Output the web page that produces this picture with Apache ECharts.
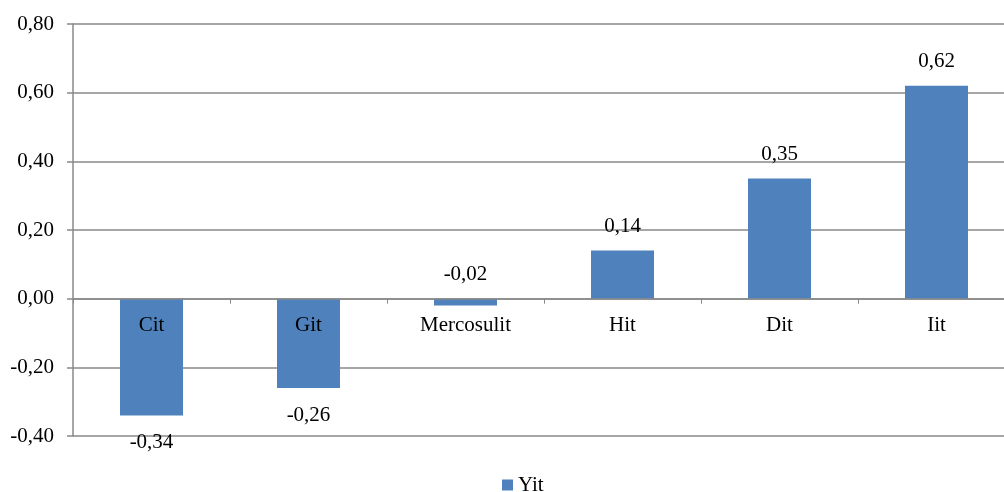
<!DOCTYPE html>
<html>
<head>
<meta charset="utf-8">
<script src="https://cdn.jsdelivr.net/npm/echarts@6/dist/echarts.min.js"></script>
<style>
  html, body { margin: 0; padding: 0; background: #fff; }
  #chart { width: 1004px; height: 492px; }
</style>
</head>
<body>
<div id="chart"></div>
<script>
// Categories and the Yit value for each
const categories = ['Cit', 'Git', 'Mercosulit', 'Hit', 'Dit', 'Iit'];
const yitValues = [-0.34, -0.26, -0.02, 0.14, 0.35, 0.62];
const seriesName = 'Yit';

// Value axis range and step
const yMin = -0.4;
const yMax = 0.8;
const yStep = 0.2;

const FONT = '"Liberation Serif", "Times New Roman", serif';
const GRID_GREY = '#898989';
const BAR_BLUE = '#4F81BD';

// Decimal comma, two places
const fmt = v => (Math.abs(v) < 1e-9 ? 0 : v).toFixed(2).replace('.', ',');

// Small negative bars get their label above the baseline so it stays clear of the category name
const barData = yitValues.map(v => {
  const above = v >= 0 || v > -0.05;
  return {
    value: v,
    label: { position: above ? 'top' : 'bottom', distance: above ? 14 : 17 }
  };
});

const chart = echarts.init(document.getElementById('chart'), null, { renderer: 'canvas' });
chart.setOption({
  animation: false,
  backgroundColor: '#fff',
  textStyle: { fontFamily: FONT },
  // plot runs a little past the right edge of the canvas
  grid: { left: 73, width: 942, top: 24, bottom: 56, containLabel: false, outerBoundsMode: 'none' },
  legend: {
    data: [seriesName],
    left: 497,
    top: 469,
    icon: 'rect',
    itemWidth: 11,
    itemHeight: 11,
    itemGap: 10,
    textStyle: { fontFamily: FONT, fontSize: 21, color: '#000', lineHeight: 22 }
  },
  xAxis: {
    type: 'category',
    data: categories,
    z: 3,
    axisLine: { onZero: true, lineStyle: { color: GRID_GREY, width: 1.5 } },
    axisTick: { show: true, length: 5, lineStyle: { color: GRID_GREY } },
    // category names sit just under the zero line, over the bars
    axisLabel: { fontFamily: FONT, fontSize: 21, color: '#000', margin: -121 },
    splitLine: { show: false }
  },
  yAxis: {
    type: 'value',
    min: yMin,
    max: yMax,
    interval: yStep,
    axisLine: { show: true, lineStyle: { color: GRID_GREY, width: 1.5 } },
    axisTick: { show: true, length: 6, lineStyle: { color: GRID_GREY, width: 1.5 } },
    axisLabel: { fontFamily: FONT, fontSize: 21, color: '#000', margin: 19, formatter: fmt },
    splitLine: { show: true, lineStyle: { color: GRID_GREY, width: 1.5 } }
  },
  series: [{
    name: seriesName,
    type: 'bar',
    data: barData,
    barWidth: 63,
    itemStyle: { color: BAR_BLUE },
    label: {
      show: true,
      fontFamily: FONT,
      fontSize: 21,
      color: '#000',
      formatter: p => fmt(p.value)
    }
  }]
});
</script>
</body>
</html>
